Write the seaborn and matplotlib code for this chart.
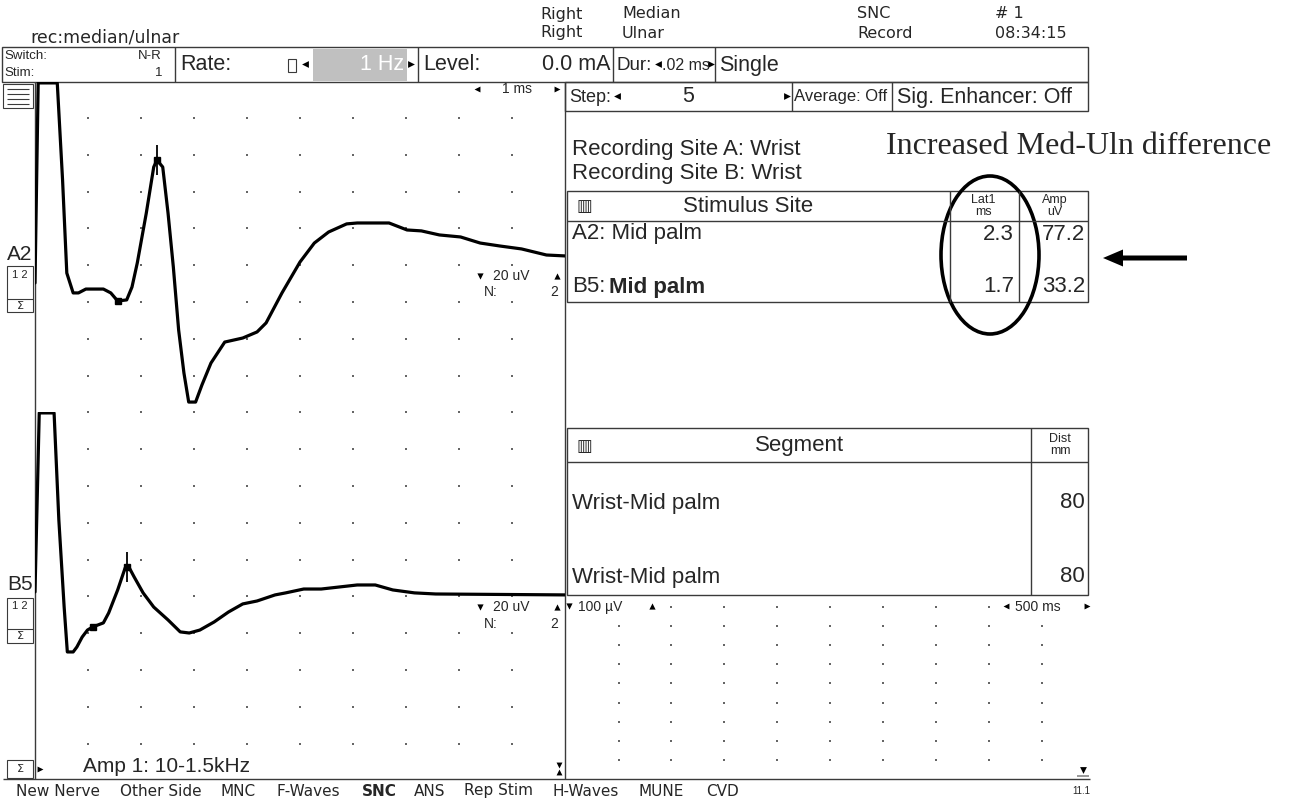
import numpy as np
import pandas as pd
import matplotlib
matplotlib.use("Agg")
import matplotlib.pyplot as plt
from matplotlib.patches import Rectangle, Ellipse, FancyArrow
import seaborn as sns

# %%
# waveform data (time in ms, amplitude in uV, 0 = trace start)
a2_time = [0.0, 0.06, 0.42, 0.52, 0.60, 0.72, 0.82, 0.96, 1.29, 1.43, 1.56, 1.73,
           1.83, 1.93, 2.10, 2.24, 2.30, 2.41, 2.51, 2.61, 2.71, 2.81, 2.90, 3.03,
           3.15, 3.32, 3.58, 3.92, 4.19, 4.36, 4.66, 5.00, 5.27, 5.54, 5.88, 6.08,
           6.68, 7.02, 7.29, 7.63, 8.03, 8.40, 8.77, 9.18, 9.65, 10.0]
a2_amp = [0.0, 108.7, 108.7, 56.0, 5.4, -5.4, -5.4, -3.3, -3.3, -5.4, -9.8, -9.2,
          -2.2, 10.9, 38.0, 63.0, 66.8, 63.0, 38.0, 8.7, -25.5, -48.9, -64.7, -64.7,
          -55.4, -43.5, -32.1, -29.9, -26.6, -21.7, -5.4, 11.4, 21.7, 27.7, 32.1, 32.6,
          32.6, 28.8, 28.3, 26.1, 25.0, 21.7, 20.1, 18.5, 15.2, 14.7]

b5_time = [0.0, 0.08, 0.36, 0.45, 0.55, 0.61, 0.72, 0.79, 0.89, 0.99, 1.09, 1.29,
           1.39, 1.56, 1.70, 1.77, 1.87, 2.04, 2.24, 2.51, 2.74, 2.91, 3.11, 3.38,
           3.65, 3.92, 4.19, 4.53, 4.73, 5.07, 5.40, 5.74, 6.08, 6.42, 6.75, 7.16,
           7.56, 10.0]
b5_amp = [0.0, 97.3, 97.3, 39.1, -8.2, -32.6, -32.6, -29.9, -24.5, -20.7, -19.0, -16.8,
          -11.4, 1.1, 13.0, 13.6, 8.2, -0.5, -8.2, -15.2, -21.7, -22.3, -20.7, -16.3,
          -10.9, -6.5, -4.9, -1.6, -0.5, 1.6, 1.6, 2.7, 3.8, 3.8, 1.1, -0.5,
          -1.1, -1.6]

# cursor markers: onset and peak (ms, uV)
a2_onset = (1.56, -9.8)
a2_peak = (2.30, 66.8)
b5_onset = (1.09, -19.0)
b5_peak = (1.74, 13.6)

# result tables
stim_sites = ["A2: Mid palm", "B5: Mid palm"]
lat1_ms = ["2.3", "1.7"]
amp_uv = ["77.2", "33.2"]
segments = ["Wrist-Mid palm", "Wrist-Mid palm"]
dist_mm = ["80", "80"]
menu_items = ["New Nerve", "Other Side", "MNC", "F-Waves", "SNC", "ANS",
              "Rep Stim", "H-Waves", "MUNE", "CVD"]

# %%
sns.set_theme(style="white")
plt.rcParams["font.family"] = ["Liberation Sans", "DejaVu Sans"]

W, H = 1290, 801
fig = plt.figure(figsize=(W / 100, H / 100), dpi=100)
fig.patch.set_facecolor("white")

# screen chrome drawn in pixel coordinates
bg = fig.add_axes([0, 0, 1, 1])
bg.set_xlim(0, W)
bg.set_ylim(H, 0)
bg.axis("off")

LC = "#3a3a3a"
BIG = 15.5
SMALL = 10


def box(x0, y0, x1, y1, lw=1.0, color=LC, fc="none"):
    bg.add_patch(Rectangle((x0, y0), x1 - x0, y1 - y0, fill=fc != "none",
                           facecolor=fc, edgecolor=color, lw=lw))


def vline(x, y0, y1, lw=1.0, color=LC):
    bg.plot([x, x], [y0, y1], color=color, lw=lw, solid_capstyle="butt")


def hline(y, x0, x1, lw=1.0, color=LC):
    bg.plot([x0, x1], [y, y], color=color, lw=lw, solid_capstyle="butt")


def txt(x, y, s, size=BIG, ha="left", **kw):
    bg.text(x, y, s, fontsize=size, ha=ha, va="center", **kw)


def tri(x, y, m, s=24):
    bg.scatter([x], [y], marker=m, s=s, color="black", lw=0)


# header
hdr = dict(family=["DejaVu Sans"], size=12.5)
txt(30, 37, "rec:median/ulnar", **hdr)
hdr["size"] = 11.5
txt(540, 14, "Right", **hdr)
txt(540, 33, "Right", **hdr)
txt(622, 14, "Median", **hdr)
txt(622, 33, "Ulnar", **hdr)
txt(857, 14, "SNC", **hdr)
txt(857, 33, "Record", **hdr)
txt(995, 14, "# 1", **hdr)
txt(995, 33, "08:34:15", **hdr)

# control row 1
box(2, 47, 1088, 82)
for x in [175, 418, 613, 715]:
    vline(x, 47, 82)
txt(4, 56, "Switch:", size=9.5)
txt(162, 56, "N-R", size=9.5, ha="right")
txt(4, 73, "Stim:", size=9.5)
txt(162, 73, "1", size=9.5, ha="right")
txt(180, 65, "Rate:")
box(288, 59, 296, 72, lw=0.8)
tri(305, 64, "<")
box(313, 49, 407, 81, lw=0, color="#c0c0c0", fc="#c0c0c0")
txt(404, 65, "1 Hz", ha="right", color="white")
tri(411, 64, ">")
txt(423, 65, "Level:")
txt(611, 65, "0.0 mA", ha="right")
txt(617, 65, "Dur:", size=13.5)
tri(658, 64, "<")
txt(662, 65, ".02 ms", size=11.5)
tri(711, 64, ">")
txt(719, 65, "Single")

# control row 2
box(565, 82, 1088, 111)
vline(792, 82, 111)
vline(892, 82, 111)
txt(569, 97, "Step:", size=13)
tri(617, 96, "<")
txt(688, 97, "5", ha="center")
tri(787, 96, ">")
txt(794, 97, "Average: Off", size=12)
txt(897, 97, "Sig. Enhancer: Off", size=15.5)

# left trace panel frame
vline(35, 82, 779)
vline(565, 82, 779)
box(3, 84, 33, 108, lw=0.8)
for y in [89, 94, 99, 104]:
    hline(y, 7, 29, lw=0.8)
tri(477, 89, "<", 18)
txt(517, 89, "1 ms", size=SMALL, ha="center")
tri(557, 89, ">", 18)

# trace grid dots
gx = 35 + 53 * np.arange(1, 10)
gy = 118 + 36.8 * np.arange(0, 18)
GX, GY = np.meshgrid(gx, gy)
bg.scatter(GX.ravel(), GY.ravel(), s=1.6, marker="s", color="#666666", lw=0)

# channel labels
txt(7, 254, "A2", size=15)
box(7, 266, 33, 312, lw=0.8)
hline(299, 7, 33, lw=0.8)
txt(20, 275, "1 2", size=8, ha="center")
txt(20, 306, "Σ", size=8, ha="center", family=["DejaVu Sans"])
txt(7, 584, "B5", size=15)
box(7, 598, 33, 643, lw=0.8)
hline(629, 7, 33, lw=0.8)
txt(20, 606, "1 2", size=8, ha="center")
txt(20, 636, "Σ", size=8, ha="center", family=["DejaVu Sans"])

for yy, ny in [(276, 292), (607, 624)]:
    tri(480, yy, "v", 20)
    txt(511, yy, "20 uV", size=SMALL, ha="center")
    tri(557, yy, "^", 20)
    txt(484, ny, "N:", size=SMALL)
    txt(558, ny, "2", size=SMALL, ha="right")

# bottom strip of the trace panel
box(7, 760, 33, 778, lw=0.8)
txt(20, 769, "Σ", size=8, ha="center", family=["DejaVu Sans"])
tri(40, 769, ">", 18)
txt(83, 767, "Amp 1: 10-1.5kHz", size=15)
tri(559, 765, "v", 18)
tri(559, 772, "^", 18)
hline(779, 3, 1090)

# right panel texts
txt(572, 150, "Recording Site A: Wrist", size=16)
txt(572, 174, "Recording Site B: Wrist", size=16)
bg.text(886, 146, "Increased Med-Uln difference", fontsize=23, ha="left",
        va="center", family=["Liberation Serif", "DejaVu Serif"])

# stimulus table
box(567, 191, 1088, 302)
hline(221, 567, 1088)
vline(950, 191, 302)
vline(1019, 191, 302)
txt(576, 206, "▥", size=12, family=["DejaVu Sans"])
txt(748, 206, "Stimulus Site", size=16, ha="center")
txt(983, 200, "Lat1", size=9, ha="center")
txt(983, 212, "ms", size=9, ha="center")
txt(1055, 200, "Amp", size=9, ha="center")
txt(1055, 212, "uV", size=9, ha="center")
row_y = [234, 287]
for i, y in enumerate(row_y):
    if i == 0:
        txt(572, y, stim_sites[i], size=16)
    else:
        site, where = stim_sites[i].split(": ")
        txt(572, y, site + ":", size=16)
        txt(609, y, where, size=16, weight="bold")
    txt(1014, y, lat1_ms[i], size=16, ha="right")
    txt(1085, y, amp_uv[i], size=16, ha="right")

bg.add_patch(Ellipse((990, 255), 98, 158, fill=False, lw=2.6, color="black"))
bg.add_patch(FancyArrow(1187, 258, -84, 0, width=5, head_width=17, head_length=20,
                        length_includes_head=True, color="black", lw=0))

# segment table
box(567, 428, 1088, 595)
hline(462, 567, 1088)
vline(1031, 428, 595)
txt(576, 446, "▥", size=12, family=["DejaVu Sans"])
txt(800, 446, "Segment", size=16, ha="center")
txt(1060, 439, "Dist", size=9, ha="center")
txt(1060, 451, "mm", size=9, ha="center")
for y, seg, d in zip([503, 577], segments, dist_mm):
    txt(572, y, seg, size=16)
    txt(1085, y, d, size=16, ha="right")

# small lower-right panel
tri(569, 606, "v", 20)
txt(578, 607, "100 µV", size=SMALL)
tri(652, 606, "^", 20)
tri(1006, 606, "<", 18)
txt(1015, 607, "500 ms", size=SMALL)
tri(1087, 606, ">", 18)
rx = 618.5 + 52.9 * np.arange(0, 9)
ry = 607 + 19.1 * np.arange(0, 9)
RX, RY = np.meshgrid(rx, ry)
keep = ~((RY < 610) & ((RX < 640) | (RX > 1000)))
bg.scatter(RX[keep], RY[keep], s=1.6, marker="s", color="#666666", lw=0)
tri(1083, 770, "v", 24)
hline(776, 1077, 1089, lw=1.2, color="#888888")

# bottom menu
menu_x = [16, 120, 221, 277, 362, 414, 464, 553, 639, 706]
for x, item in zip(menu_x, menu_items):
    txt(x, 791, item, size=11, family=["DejaVu Sans"],
        weight="bold" if item == "SNC" else "normal")
txt(1090, 791, "11.1", size=7, ha="right")

# %%
# traces
ax_a = fig.add_axes([35 / W, 1 - 412 / H, 530 / W, 330 / H])
ax_b = fig.add_axes([35 / W, 1 - 778 / H, 530 / W, 366 / H])

traces = [
    (ax_a, a2_time, a2_amp, a2_onset, a2_peak, (-70.1, 109.2)),
    (ax_b, b5_time, b5_amp, b5_onset, b5_peak, (-101.1, 97.8)),
]
for ax, t, a, onset, peak, ylim in traces:
    df = pd.DataFrame({"time_ms": t, "amp_uv": a})
    sns.lineplot(data=df, x="time_ms", y="amp_uv", ax=ax, color="black",
                 linewidth=2.3, sort=False, estimator=None)
    ax.plot(*onset, marker="s", ms=5, color="black")
    ax.plot(*peak, marker="s", ms=5, color="black")
    ax.plot(*peak, marker="|", ms=22, mew=1.3, color="black")
    ax.set_xlim(0, 10)
    ax.set_ylim(*ylim)
    ax.patch.set_alpha(0)
    ax.axis("off")

fig.savefig("out.png", dpi=100)
